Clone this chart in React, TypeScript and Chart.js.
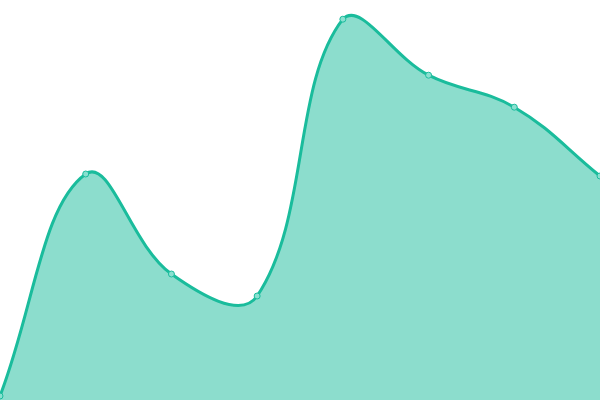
import { useRef, useEffect } from "react";
import Chart from "chart.js/auto";

const labels = ["1", "2", "3", "4", "5", "6", "7", "8"];
const values = [1, 56.5, 31.5, 26, 95.2, 81.2, 73.2, 56];
const yMin = 0;
const yMax = 100;

const App = () => {
  const chartRef = useRef<HTMLCanvasElement>(null);

  useEffect(() => {
    document.body.style.margin = "0";
    const myChart = new Chart(chartRef.current!, {
      type: "line",
      data: {
        labels,
        datasets: [
          {
            data: values,
            fill: true,
            tension: 0.4,
            borderColor: "#1abc9c",
            borderWidth: 3,
            backgroundColor: "rgba(26,188,156,0.5)",
            pointRadius: 3,
            pointBorderWidth: 1,
            pointBackgroundColor: "rgba(138,224,208,1)",
            pointBorderColor: "#1abc9c",
          },
        ],
      },
      options: {
        animation: false,
        responsive: false,
        layout: { padding: 0, autoPadding: false },
        plugins: { legend: { display: false }, tooltip: { enabled: false } },
        scales: {
          x: { display: false, offset: false },
          y: { display: false, min: yMin, max: yMax },
        },
      },
    });

    return () => myChart.destroy();
  }, []);

  return (
    <div style={{ position: "fixed", left: 0, top: 0, width: 600, height: 400 }}>
      <canvas ref={chartRef} width={600} height={400}></canvas>
    </div>
  );
};

export default App;
